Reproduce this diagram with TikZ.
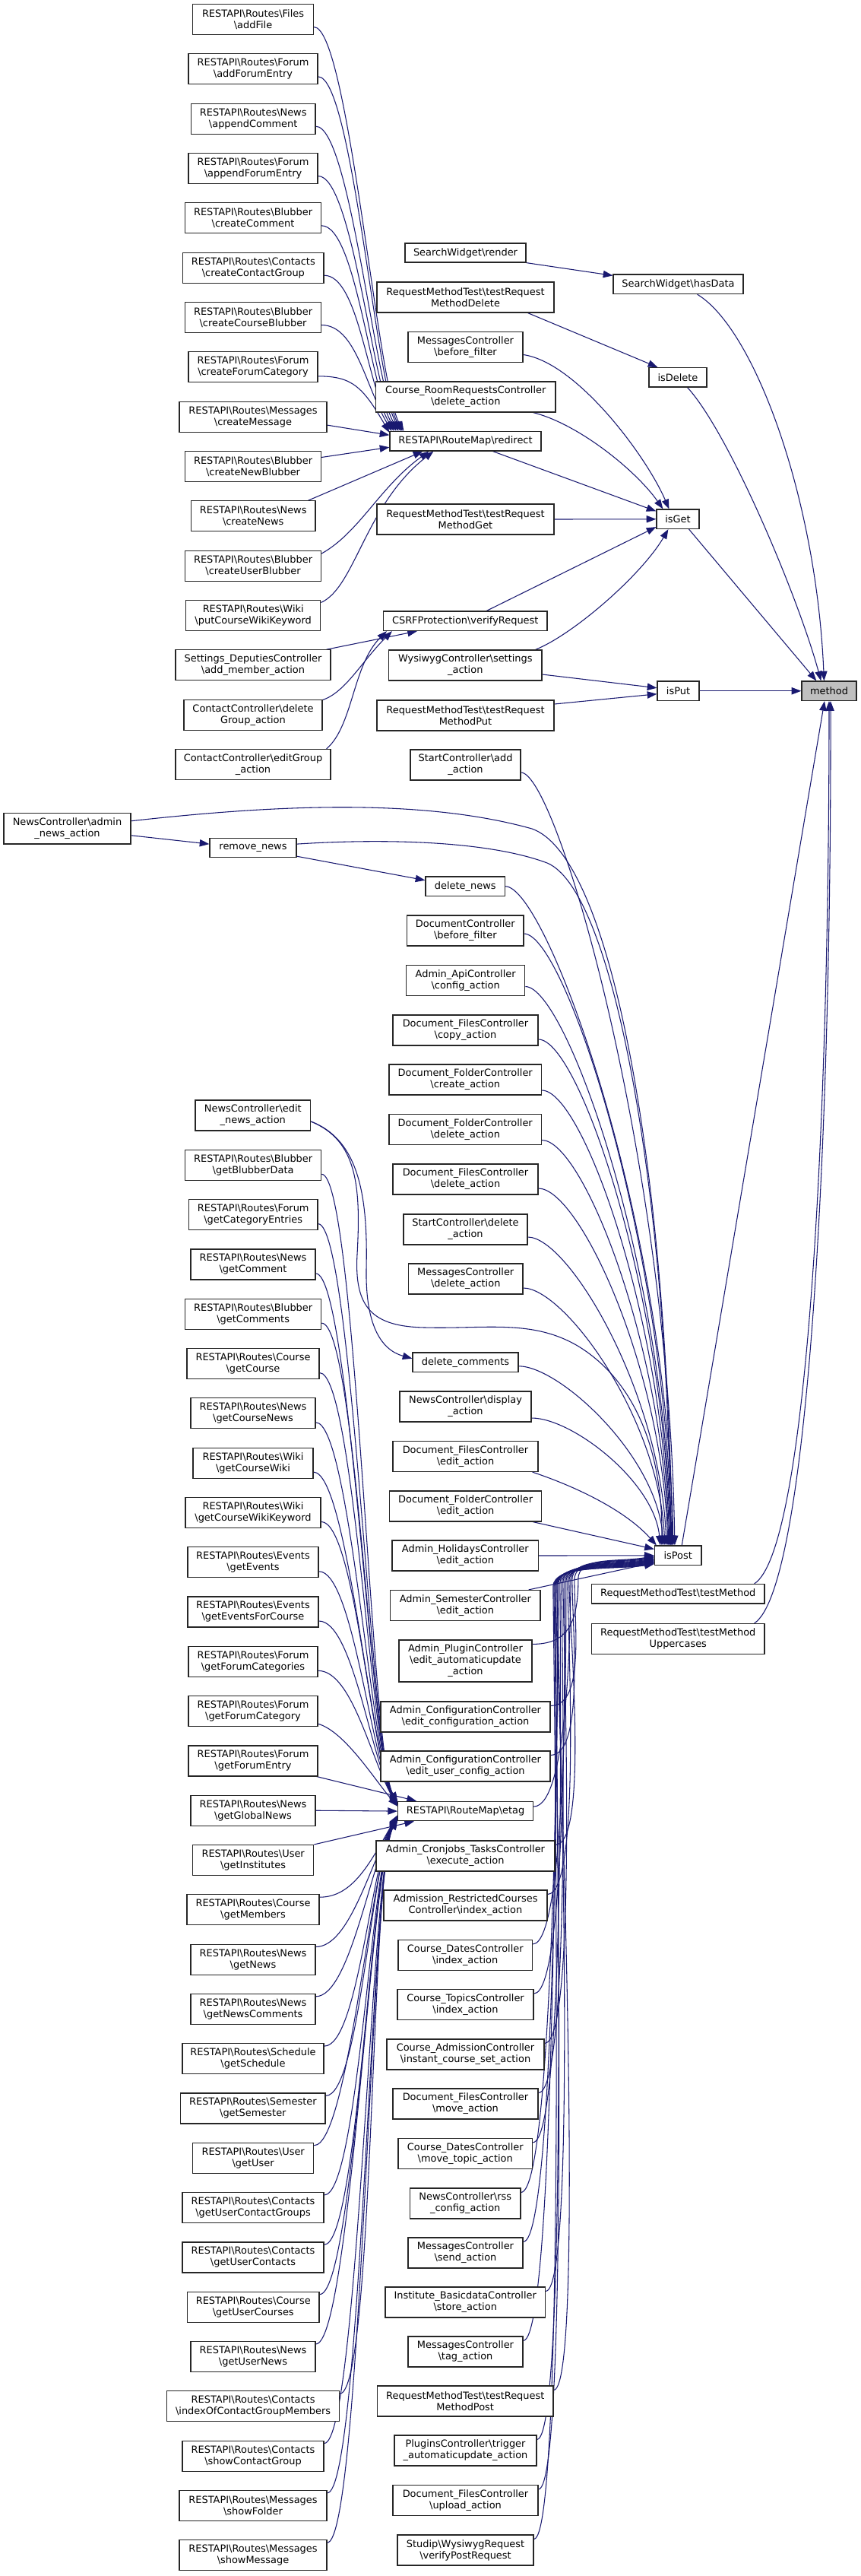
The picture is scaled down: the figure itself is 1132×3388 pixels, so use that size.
\documentclass[tikz,border=0pt]{standalone}
\usepackage{fontspec}
\setmainfont{DejaVu Sans}
\usetikzlibrary{arrows.meta,calc}
\definecolor{mblue}{HTML}{191970}
\pgfdeclarelayer{bg}
\pgfsetlayers{bg,main}
\newcommand\bksl{\textbackslash}
\newcommand\mkbox[6]{%
  \pgfmathsetmacro\mkcx{(#2+#4)/2}%
  \pgfmathsetmacro\mkcy{(#3+#5)/2}%
  \pgfmathsetmacro\mkw{(#4-#2)*0.75}%
  \pgfmathsetmacro\mkh{(#5-#3)*0.75}%
  \node[nbox,minimum width=\mkw pt,minimum height=\mkh pt] (#1) at (\mkcx,\mkcy) {#6};}
\newcommand\edDown[3]{\draw[cedge] let \p1=(#1), \p2=(#2) in (\p1) .. controls +(#3,0pt) and +(-6pt,{0.5*((\y1)-(\y2))}) .. (\p2);}
\newcommand\edUp[3]{\draw[cedge] (#1) .. controls +(45,0) and +(0,60) .. ($(isPost.west)+(-#3,{30+#2})$) .. controls +(0,-30) and +(-50,8) .. ($(isPost.west)+(0,#2)$);}
\newcommand\edGa[2]{\draw[cedge] (#1) .. controls +(45,0) and +(-35,-60) .. (#2);}
\newcommand\edGb[2]{\draw[cedge] (#1) .. controls +(45,0) and +(-35,60) .. (#2);}
\begin{document}
\begin{tikzpicture}[x=0.75pt,y=-0.75pt,
  nbox/.style={draw=black!85,line width=0.9pt,fill=white,inner sep=0pt,align=center,font=\fontsize{9.7pt}{11.25pt}\selectfont},
  cedge/.style={draw=mblue,line width=0.8pt,-{Triangle[length=9.5pt,width=7pt]}}]
\useasboundingbox (0,0) rectangle (1132,3388);
% ---------- left column, upper group
\mkbox{aF}{253.6}{5.5}{412.5}{45.5}{RESTAPI\bksl Routes\bksl Files\\\bksl addFile}
\mkbox{aFE}{248}{70.8}{418}{110.8}{RESTAPI\bksl Routes\bksl Forum\\\bksl addForumEntry}
\mkbox{aC}{251.4}{136.2}{415}{176.2}{RESTAPI\bksl Routes\bksl News\\\bksl appendComment}
\mkbox{aFE2}{248}{201.5}{418}{241.5}{RESTAPI\bksl Routes\bksl Forum\\\bksl appendForumEntry}
\mkbox{cC}{243.6}{266.8}{422.5}{306.8}{RESTAPI\bksl Routes\bksl Blubber\\\bksl createComment}
\mkbox{cCG}{240.7}{332.2}{426}{372.2}{RESTAPI\bksl Routes\bksl Contacts\\\bksl createContactGroup}
\mkbox{cCB}{243.6}{397.5}{422.5}{437.5}{RESTAPI\bksl Routes\bksl Blubber\\\bksl createCourseBlubber}
\mkbox{cFC}{248}{462.8}{418}{502.8}{RESTAPI\bksl Routes\bksl Forum\\\bksl createForumCategory}
\mkbox{cM}{236}{528.1}{430}{568.1}{RESTAPI\bksl Routes\bksl Messages\\\bksl createMessage}
\mkbox{cNB}{243.6}{593.5}{422.5}{633.5}{RESTAPI\bksl Routes\bksl Blubber\\\bksl createNewBlubber}
\mkbox{cN}{251.4}{658.8}{415}{698.8}{RESTAPI\bksl Routes\bksl News\\\bksl createNews}
\mkbox{cUB}{243.6}{724.1}{422.5}{764.1}{RESTAPI\bksl Routes\bksl Blubber\\\bksl createUserBlubber}
\mkbox{pCWK}{244.6}{789.5}{421.8}{829.5}{RESTAPI\bksl Routes\bksl Wiki\\\bksl putCourseWikiKeyword}
\mkbox{sDep}{231}{854.8}{435}{894.8}{Settings\_DeputiesController\\\bksl add\_member\_action}
\mkbox{cDel}{242}{920.1}{424}{960.1}{ContactController\bksl delete\\Group\_action}
\mkbox{cEdit}{231}{985.5}{435}{1025.5}{ContactController\bksl editGroup\\\_action}
\mkbox{admin}{5}{1069.5}{172}{1110}{NewsController\bksl admin\\\_news\_action}
\mkbox{rmN}{276}{1102.6}{390}{1127.6}{remove\_news}
% ---------- left column, lower group
\mkbox{editN}{257}{1447}{408.6}{1487}{NewsController\bksl edit\\\_news\_action}
\mkbox{gBD}{243.6}{1512.3}{422.7}{1552.3}{RESTAPI\bksl Routes\bksl Blubber\\\bksl getBlubberData}
\mkbox{gCE}{248.4}{1577.6}{418}{1617.6}{RESTAPI\bksl Routes\bksl Forum\\\bksl getCategoryEntries}
\mkbox{gCm}{251}{1642.9}{415}{1682.9}{RESTAPI\bksl Routes\bksl News\\\bksl getComment}
\mkbox{gCs}{243.6}{1708.2}{422.7}{1748.2}{RESTAPI\bksl Routes\bksl Blubber\\\bksl getComments}
\mkbox{gCo}{246}{1773.5}{420}{1813.5}{RESTAPI\bksl Routes\bksl Course\\\bksl getCourse}
\mkbox{gCN}{251}{1838.8}{415}{1878.8}{RESTAPI\bksl Routes\bksl News\\\bksl getCourseNews}
\mkbox{gCW}{254}{1904.1}{412}{1944.1}{RESTAPI\bksl Routes\bksl Wiki\\\bksl getCourseWiki}
\mkbox{gCWK}{244}{1969.4}{422}{2009.4}{RESTAPI\bksl Routes\bksl Wiki\\\bksl getCourseWikiKeyword}
\mkbox{gEv}{247}{2034.7}{419}{2074.7}{RESTAPI\bksl Routes\bksl Events\\\bksl getEvents}
\mkbox{gEFC}{247}{2100}{419}{2140}{RESTAPI\bksl Routes\bksl Events\\\bksl getEventsForCourse}
\mkbox{gFCs}{248}{2165.3}{418}{2205.3}{RESTAPI\bksl Routes\bksl Forum\\\bksl getForumCategories}
\mkbox{gFC}{248}{2230.6}{418}{2270.6}{RESTAPI\bksl Routes\bksl Forum\\\bksl getForumCategory}
\mkbox{gFE}{248}{2295.9}{418}{2335.9}{RESTAPI\bksl Routes\bksl Forum\\\bksl getForumEntry}
\mkbox{gGN}{251}{2361.2}{415}{2401.2}{RESTAPI\bksl Routes\bksl News\\\bksl getGlobalNews}
\mkbox{gIn}{253.6}{2426.5}{412.7}{2466.5}{RESTAPI\bksl Routes\bksl User\\\bksl getInstitutes}
\mkbox{gMe}{246}{2491.8}{420}{2531.8}{RESTAPI\bksl Routes\bksl Course\\\bksl getMembers}
\mkbox{gNw}{251}{2557.1}{415}{2597.1}{RESTAPI\bksl Routes\bksl News\\\bksl getNews}
\mkbox{gNC}{251}{2622.4}{415}{2662.4}{RESTAPI\bksl Routes\bksl News\\\bksl getNewsComments}
\mkbox{gSc}{240}{2687.7}{426}{2727.7}{RESTAPI\bksl Routes\bksl Schedule\\\bksl getSchedule}
\mkbox{gSe}{237.7}{2753}{428}{2793}{RESTAPI\bksl Routes\bksl Semester\\\bksl getSemester}
\mkbox{gUs}{253.6}{2818.3}{412.7}{2858.3}{RESTAPI\bksl Routes\bksl User\\\bksl getUser}
\mkbox{gUCG}{240}{2883.6}{426}{2923.6}{RESTAPI\bksl Routes\bksl Contacts\\\bksl getUserContactGroups}
\mkbox{gUC}{240}{2948.9}{426}{2988.9}{RESTAPI\bksl Routes\bksl Contacts\\\bksl getUserContacts}
\mkbox{gUCo}{246.5}{3014.2}{420}{3054.2}{RESTAPI\bksl Routes\bksl Course\\\bksl getUserCourses}
\mkbox{gUN}{251}{3079.5}{415}{3119.5}{RESTAPI\bksl Routes\bksl News\\\bksl getUserNews}
\mkbox{iCGM}{219.7}{3144.8}{446.5}{3184.8}{RESTAPI\bksl Routes\bksl Contacts\\\bksl indexOfContactGroupMembers}
\mkbox{sCG}{240}{3210.1}{426}{3250.1}{RESTAPI\bksl Routes\bksl Contacts\\\bksl showContactGroup}
\mkbox{sFo}{236}{3275.4}{430}{3315.4}{RESTAPI\bksl Routes\bksl Messages\\\bksl showFolder}
\mkbox{sMe}{236}{3340.7}{430}{3380.7}{RESTAPI\bksl Routes\bksl Messages\\\bksl showMessage}
% ---------- middle column
\mkbox{rend}{533}{320}{692}{345}{SearchWidget\bksl render}
\mkbox{tDel}{496}{371}{729}{411}{RequestMethodTest\bksl testRequest\\MethodDelete}
\mkbox{mBF}{537}{436.5}{688}{476.5}{MessagesController\\\bksl before\_filter}
\mkbox{cRR}{494.5}{502}{731}{542}{Course\_RoomRequestsController\\\bksl delete\_action}
\mkbox{redirect}{513}{567.5}{712}{593}{RESTAPI\bksl RouteMap\bksl redirect}
\mkbox{tGet}{496}{663}{729}{703}{RequestMethodTest\bksl testRequest\\MethodGet}
\mkbox{csrf}{504.5}{804}{720}{829.5}{CSRFProtection\bksl verifyRequest}
\mkbox{wys}{511.6}{855}{713}{895}{WysiwygController\bksl settings\\\_action}
\mkbox{tPut}{496}{921}{729}{961}{RequestMethodTest\bksl testRequest\\MethodPut}
\mkbox{stAdd}{540}{986}{685}{1026}{StartController\bksl add\\\_action}
\mkbox{delN}{560}{1153}{664.5}{1178.5}{delete\_news}
\mkbox{dBF}{535.6}{1204}{689}{1244}{DocumentController\\\bksl before\_filter}
\mkbox{apiC}{534.6}{1269.5}{690.7}{1309.5}{Admin\_ApiController\\\bksl config\_action}
\mkbox{fCopy}{517}{1335}{708}{1375}{Document\_FilesController\\\bksl copy\_action}
\mkbox{foCreate}{512}{1400}{712.5}{1440}{Document\_FolderController\\\bksl create\_action}
\mkbox{foDel}{512}{1465.5}{712.5}{1505.5}{Document\_FolderController\\\bksl delete\_action}
\mkbox{fDel}{517}{1531}{708}{1571}{Document\_FilesController\\\bksl delete\_action}
\mkbox{stDel}{531}{1597}{694}{1637}{StartController\bksl delete\\\_action}
\mkbox{mDel}{537.5}{1662}{688}{1702}{MessagesController\\\bksl delete\_action}
\mkbox{delC}{543}{1779}{682}{1804.5}{delete\_comments}
\mkbox{disp}{526}{1830}{699}{1870}{NewsController\bksl display\\\_action}
\mkbox{fEdit}{517}{1895.5}{708}{1935.5}{Document\_FilesController\\\bksl edit\_action}
\mkbox{foEdit}{512.6}{1961}{712.7}{2001}{Document\_FolderController\\\bksl edit\_action}
\mkbox{hol}{516}{2026}{708.6}{2066}{Admin\_HolidaysController\\\bksl edit\_action}
\mkbox{sem}{513.7}{2091.5}{711}{2131.5}{Admin\_SemesterController\\\bksl edit\_action}
\mkbox{plug}{525}{2157}{700}{2212}{Admin\_PluginController\\\bksl edit\_automaticupdate\\\_action}
\mkbox{eConf}{501}{2238}{724}{2278}{Admin\_ConfigurationController\\\bksl edit\_configuration\_action}
\mkbox{eUser}{501}{2303}{724}{2343}{Admin\_ConfigurationController\\\bksl edit\_user\_config\_action}
\mkbox{etag}{523.6}{2369.3}{701.6}{2394.8}{RESTAPI\bksl RouteMap\bksl etag}
\mkbox{cron}{495}{2421}{730}{2461}{Admin\_Cronjobs\_TasksController\\\bksl execute\_action}
\mkbox{adm}{505}{2486}{720}{2526}{Admission\_RestrictedCourses\\Controller\bksl index\_action}
\mkbox{cdIdx}{524}{2551.5}{700.5}{2591.5}{Course\_DatesController\\\bksl index\_action}
\mkbox{ctIdx}{523}{2616.6}{702}{2656.6}{Course\_TopicsController\\\bksl index\_action}
\mkbox{caInst}{509}{2682}{716}{2722}{Course\_AdmissionController\\\bksl instant\_course\_set\_action}
\mkbox{fMove}{517}{2747}{708}{2787}{Document\_FilesController\\\bksl move\_action}
\mkbox{cdMove}{524}{2812.4}{700.5}{2852.4}{Course\_DatesController\\\bksl move\_topic\_action}
\mkbox{rss}{539.5}{2878}{685}{2918}{NewsController\bksl rss\\\_config\_action}
\mkbox{mSend}{537}{2943}{688}{2983}{MessagesController\\\bksl send\_action}
\mkbox{store}{507}{3008}{717.5}{3048}{Institute\_BasicdataController\\\bksl store\_action}
\mkbox{mTag}{537}{3073}{688}{3113}{MessagesController\\\bksl tag\_action}
\mkbox{tPost}{496.5}{3138}{728}{3178}{RequestMethodTest\bksl testRequest\\MethodPost}
\mkbox{trig}{519}{3203}{706}{3243}{PluginsController\bksl trigger\\\_automaticupdate\_action}
\mkbox{fUp}{517}{3268.5}{708}{3308.5}{Document\_FilesController\\\bksl upload\_action}
\mkbox{vPost}{523}{3334}{702}{3374}{Studip\bksl WysiwygRequest\\\bksl verifyPostRequest}
% ---------- right columns
\mkbox{hasData}{807}{361}{978}{386.6}{SearchWidget\bksl hasData}
\mkbox{isDelete}{854}{483.6}{930}{509}{isDelete}
\mkbox{isGet}{864}{670}{920}{695.5}{isGet}
\mkbox{isPut}{865}{896}{920}{921.5}{isPut}
\mkbox{isPost}{861.5}{2033}{923}{2058.5}{isPost}
\mkbox{tM}{778.5}{2083.5}{1006}{2109}{RequestMethodTest\bksl testMethod}
\mkbox{tMU}{778.5}{2135.5}{1006}{2175.5}{RequestMethodTest\bksl testMethod\\Uppercases}
\node[nbox,fill=black!25,minimum width=54pt,minimum height=19.1pt] (method) at (1091,908.75) {method};
% ---------- edges
\begin{pgfonlayer}{bg}
% into redirect
\edGa{$(aF.east)+(0,10)$}{$(redirect.north west)+(19,0)$}
\edGa{$(aFE.east)+(0,10)$}{$(redirect.north west)+(17,0)$}
\edGa{$(aC.east)+(0,10)$}{$(redirect.north west)+(15,0)$}
\edGa{$(aFE2.east)+(0,10)$}{$(redirect.north west)+(12,0)$}
\edGa{$(cC.east)+(0,10)$}{$(redirect.north west)+(9,0)$}
\edGa{$(cCG.east)+(0,10)$}{$(redirect.north west)+(6,0)$}
\edGa{$(cCB.east)+(0,10)$}{$(redirect.north west)+(3,0)$}
\edGa{$(cFC.east)+(0,12)$}{$(redirect.north west)+(0,2)$}
\draw[cedge] ($(cM.east)+(0,11)$) -- ($(redirect.west)+(0,-8)$);
\draw[cedge] ($(cNB.east)+(0,-12)$) -- ($(redirect.west)+(0,8)$);
\draw[cedge] ($(cN.north east)+(-10,0)$) -- ($(redirect.south west)+(44,0)$);
\draw[cedge] ($(cUB.east)+(0,-16)$) .. controls +(50,-28) and +(-65,47) .. ($(redirect.south west)+(52,0)$);
\draw[cedge] ($(pCWK.east)+(0,-17)$) .. controls +(45,-20) and +(-90,70) .. ($(redirect.south west)+(58,0)$);
% into CSRF
\draw[cedge] ($(sDep.north east)+(-6,0)$) -- ($(csrf.south west)+(45,0)$);
\draw[cedge] ($(cDel.north east)+(0,1)$) .. controls +(30,-10) and +(-40,40) .. ($(csrf.south west)+(12,0)$);
\draw[cedge] ($(cEdit.north east)+(-6,0)$) .. controls +(35,-30) and +(-45,45) .. ($(csrf.south west)+(5,0)$);
% into isGet / isPut / isDelete / hasData
\draw[cedge] ($(mBF.east)+(0,10)$) .. controls +(70,10) and +(-30,-70) .. ($(isGet.north west)+(17,0)$);
\draw[cedge] ($(cRR.south east)+(-30,0)$) .. controls +(60,15) and +(-35,-50) .. ($(isGet.north west)+(9,0)$);
\draw[cedge] ($(redirect.south east)+(-64,0)$) -- ($(isGet.north west)+(0,3)$);
\draw[cedge] (tGet.east) -- (isGet.west);
\draw[cedge] ($(csrf.north)+(28,0)$) -- ($(isGet.south west)+(0,-3)$);
\draw[cedge] ($(wys.north east)+(-9,0)$) .. controls +(50,-20) and +(-35,60) .. ($(isGet.south west)+(16,0)$);
\draw[cedge] ($(wys.east)+(0,12)$) -- ($(isPut.west)+(0,-4)$);
\draw[cedge] ($(tPut.east)+(0,-15)$) -- ($(isPut.west)+(0,4)$);
\draw[cedge] (rend.south east) -- ($(hasData.north west)+(0,2)$);
\draw[cedge] ($(tDel.south east)+(-35,0)$) -- ($(isDelete.north west)+(12,0)$);
% into method
\draw[cedge] ($(hasData.south east)+(-61,0)$) .. controls +(75,45) and +(-10,-240) .. ($(method.north west)+(30,0)$);
\draw[cedge] ($(isDelete.south east)+(-26,0)$) .. controls +(55,60) and +(-30,-110) .. ($(method.north west)+(26,0)$);
\draw[cedge] ($(isGet.south east)+(-14,0)$) -- ($(method.north west)+(20,0)$);
\draw[cedge] (isPut.east) -- (method.west);
\draw[cedge] ($(isPost.north)+(5,0)$) -- ($(method.south)+(-6,0)$);
\draw[cedge] ($(tM.north east)+(-14,0)$) .. controls +(68,-43) and +(0,580) .. (method.south);
\draw[cedge] ($(tMU.north east)+(-14,0)$) .. controls +(70,-45) and +(1,590) .. ($(method.south)+(2,0)$);
% news
\draw[cedge] ($(admin.east)+(0,9)$) -- ($(rmN.west)+(0,-5)$);
\draw[cedge] ($(rmN.south east)+(0,-2)$) -- ($(delN.west)+(0,-8)$);
\draw[cedge] ($(admin.east)+(0,-10)$) .. controls (350,1060) and (550,1048) .. (700,1090) .. controls (800,1125) and (875,1500) .. ($(isPost.north west)+(24,0)$);
\draw[cedge] ($(rmN.east)+(0,-5)$) .. controls (500,1103) and (640,1105) .. (720,1135) .. controls (805,1170) and (878,1550) .. ($(isPost.north west)+(22,0)$);
\draw[cedge] ($(editN.east)+(0,8)$) .. controls (470,1500) and (475,1560) .. (470,1650) .. controls (466,1720) and (490,1745) .. (560,1746) .. controls (640,1748) and (700,1735) .. (760,1770) .. controls (830,1812) and (872,1900) .. ($(isPost.north west)+(10,0)$);
\draw[cedge] ($(editN.east)+(0,8)$) .. controls (475,1500) and (484,1580) .. (482,1670) .. controls (481,1740) and (500,1775) .. ($(delC.west)+(0,-5)$);
% into isPost from above
\edDown{$(stAdd.east)+(0,10)$}{$(isPost.north west)+(27,0)$}{35pt}
\edDown{delN.east}{$(isPost.north west)+(25,0)$}{40pt}
\edDown{$(dBF.east)+(0,4)$}{$(isPost.north west)+(23,0)$}{40pt}
\edDown{$(apiC.east)+(0,8)$}{$(isPost.north west)+(22,0)$}{40pt}
\edDown{$(fCopy.east)+(0,12)$}{$(isPost.north west)+(21,0)$}{40pt}
\edDown{$(foCreate.east)+(0,14)$}{$(isPost.north west)+(20,0)$}{40pt}
\edDown{$(foDel.east)+(0,14)$}{$(isPost.north west)+(19,0)$}{40pt}
\edDown{$(fDel.east)+(0,12)$}{$(isPost.north west)+(18,0)$}{40pt}
\edDown{$(stDel.east)+(0,10)$}{$(isPost.north west)+(16,0)$}{40pt}
\edDown{$(mDel.east)+(0,12)$}{$(isPost.north west)+(14,0)$}{40pt}
\edDown{$(delC.east)+(0,5)$}{$(isPost.north west)+(12,0)$}{40pt}
\edDown{$(disp.east)+(0,15)$}{$(isPost.north west)+(8,0)$}{40pt}
\draw[cedge] ($(fEdit.south east)+(-8,0)$) .. controls +(60,20) and +(-40,-45) .. ($(isPost.north west)+(3,0)$);
\draw[cedge] ($(foEdit.south east)+(-12,0)$) -- ($(isPost.north west)+(0,5)$);
\draw[cedge] (hol.east) -- (isPost.west);
\draw[cedge] ($(sem.north east)+(-16,0)$) -- ($(isPost.south west)+(0,-4)$);
% into isPost from below
\edUp{$(plug.north east)+(0,6)$}{1}{100}
\edUp{$(eConf.north east)+(0,6)$}{2}{105}
\edUp{$(eUser.north east)+(0,6)$}{2}{108}
\edUp{$(etag.east)+(0,-6)$}{3}{110}
\edUp{$(cron.north east)+(0,6)$}{4}{112}
\edUp{$(adm.north east)+(0,6)$}{5}{114}
\edUp{$(cdIdx.north east)+(0,6)$}{5}{116}
\edUp{$(ctIdx.north east)+(0,6)$}{6}{118}
\edUp{$(caInst.north east)+(0,6)$}{6}{120}
\edUp{$(fMove.north east)+(0,6)$}{7}{122}
\edUp{$(cdMove.north east)+(0,6)$}{7}{124}
\edUp{$(rss.north east)+(0,6)$}{8}{126}
\edUp{$(mSend.north east)+(0,6)$}{8}{127}
\edUp{$(store.north east)+(0,6)$}{9}{128}
\edUp{$(mTag.north east)+(0,6)$}{9}{129}
\edUp{$(tPost.north east)+(0,6)$}{10}{130}
\edUp{$(trig.north east)+(0,6)$}{10}{131}
\edUp{$(fUp.north east)+(0,6)$}{11}{132}
\edUp{$(vPost.north east)+(0,6)$}{11}{133}
% into etag from above
\edGa{$(gBD.east)+(0,12)$}{$(etag.north west)+(0,1)$}
\edGa{$(gCE.east)+(0,12)$}{$(etag.north west)+(0,1.5)$}
\edGa{$(gCm.east)+(0,12)$}{$(etag.north west)+(0,2)$}
\edGa{$(gCs.east)+(0,12)$}{$(etag.north west)+(0,2.5)$}
\edGa{$(gCo.east)+(0,12)$}{$(etag.north west)+(0,3)$}
\edGa{$(gCN.east)+(0,12)$}{$(etag.north west)+(0,3.5)$}
\edGa{$(gCW.east)+(0,12)$}{$(etag.north west)+(0,4)$}
\edGa{$(gCWK.east)+(0,12)$}{$(etag.north west)+(0,4.5)$}
\edGa{$(gEv.east)+(0,12)$}{$(etag.north west)+(0,5)$}
\edGa{$(gEFC.east)+(0,12)$}{$(etag.north west)+(0,5.5)$}
\edGa{$(gFCs.east)+(0,12)$}{$(etag.north west)+(0,6)$}
\draw[cedge] ($(gFC.south east)+(0,-4)$) .. controls +(35,10) and +(-30,-35) .. ($(etag.north west)+(0,7)$);
\draw[cedge] ($(gFE.south east)+(-2,0)$) -- ($(etag.north west)+(25,0)$);
\draw[cedge] (gGN.east) -- (etag.west);
\draw[cedge] (gIn.north east) -- ($(etag.south west)+(22,0)$);
% into etag from below
\edGb{$(gMe.north east)+(0,4)$}{$(etag.south west)+(0,-8)$}
\edGb{$(gNw.north east)+(0,4)$}{$(etag.south west)+(0,-7.5)$}
\edGb{$(gNC.north east)+(0,4)$}{$(etag.south west)+(0,-7)$}
\edGb{$(gSc.north east)+(0,4)$}{$(etag.south west)+(0,-6.5)$}
\edGb{$(gSe.north east)+(0,4)$}{$(etag.south west)+(0,-6)$}
\edGb{$(gUs.north east)+(0,4)$}{$(etag.south west)+(0,-5.5)$}
\edGb{$(gUCG.north east)+(0,4)$}{$(etag.south west)+(0,-5)$}
\edGb{$(gUC.north east)+(0,4)$}{$(etag.south west)+(0,-4.5)$}
\edGb{$(gUCo.north east)+(0,4)$}{$(etag.south west)+(0,-4)$}
\edGb{$(gUN.north east)+(0,4)$}{$(etag.south west)+(0,-3.5)$}
\edGb{$(iCGM.north east)+(0,4)$}{$(etag.south west)+(0,-3)$}
\edGb{$(sCG.north east)+(0,4)$}{$(etag.south west)+(0,-2.5)$}
\edGb{$(sFo.north east)+(0,4)$}{$(etag.south west)+(0,-2)$}
\edGb{$(sMe.north east)+(0,4)$}{$(etag.south west)+(0,-1.5)$}
\end{pgfonlayer}
\end{tikzpicture}
\end{document}
